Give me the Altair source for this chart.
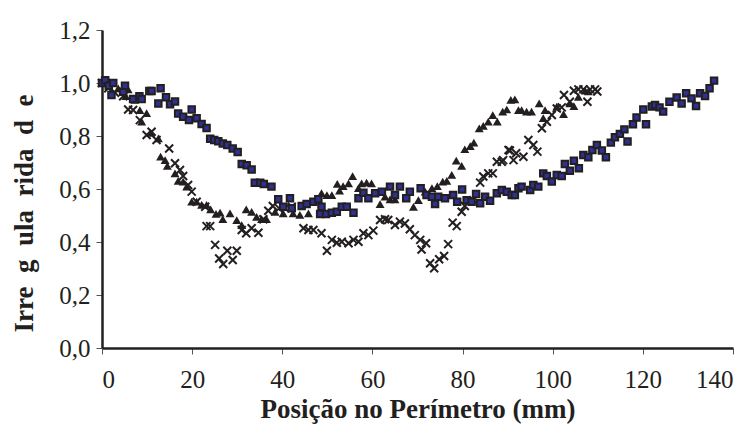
import altair as alt
import pandas as pd

# Series 1: squares
sq_x = [0, 0.7, 1.5, 2.1, 2.5, 4.7, 5.1, 6.9, 8.3, 8.8, 10.5, 11.0, 12.5, 13.0, 14.2, 15.1, 16.2, 16.9,
        18.0, 19.3, 19.9, 21.0, 22.1, 23.2, 24.0, 24.9, 25.8, 26.8, 27.8, 29.0, 30.1, 31.0, 32.1, 33.2,
        33.9, 35.1, 35.9, 37.6, 39.1, 40.2, 41.7, 42.1, 44.3, 45.4, 46.9, 48.0, 48.7, 48.4, 49.7, 51.0,
        52.1, 53.2, 54.3, 55.8, 56.9, 58.0, 59.1, 60.6, 62.1, 63.9, 65.0, 66.1, 67.5, 68.3, 70.7, 72.0,
        73.2, 73.9, 74.6, 76.1, 77.9, 78.8, 79.9, 80.9, 82.0, 83.0, 83.9, 85.0, 86.1, 87.6, 88.7, 89.8,
        90.9, 91.6, 92.4, 93.1, 95.0, 95.7, 96.8, 97.9, 98.7, 99.8, 100.9, 102.0, 102.7, 103.8, 104.7,
        105.8, 106.8, 107.9, 108.8, 109.8, 110.9, 111.8, 112.9, 113.8, 114.9, 115.9, 116.6, 117.8, 118.6,
        120.1, 120.7, 122.0, 122.7, 123.7, 124.5, 125.9, 127.5, 128.6, 129.6, 130.8, 131.8, 132.7, 133.8,
        134.8, 135.8]
sq_y = [1.00, 1.01, 0.99, 0.955, 1.00, 0.967, 0.99, 0.94, 0.95, 0.94, 0.97, 0.97, 0.923, 0.98, 0.946, 0.92,
        0.93, 0.885, 0.873, 0.86, 0.90, 0.867, 0.845, 0.83, 0.79, 0.785, 0.78, 0.772, 0.766, 0.753, 0.74,
        0.694, 0.69, 0.674, 0.624, 0.624, 0.619, 0.609, 0.561, 0.533, 0.565, 0.527, 0.536, 0.543, 0.552,
        0.561, 0.533, 0.506, 0.506, 0.51, 0.514, 0.533, 0.533, 0.51, 0.565, 0.586, 0.565, 0.584, 0.59,
        0.609, 0.577, 0.609, 0.565, 0.59, 0.603, 0.577, 0.571, 0.543, 0.571, 0.565, 0.577, 0.552, 0.598,
        0.558, 0.552, 0.581, 0.546, 0.571, 0.556, 0.584, 0.596, 0.59, 0.577, 0.577, 0.603, 0.609, 0.596,
        0.615, 0.609, 0.659, 0.649, 0.628, 0.653, 0.649, 0.694, 0.669, 0.707, 0.678, 0.728, 0.72, 0.747,
        0.766, 0.745, 0.72, 0.775, 0.795, 0.808, 0.825, 0.779, 0.844, 0.87, 0.90, 0.844, 0.911, 0.917,
        0.908, 0.892, 0.929, 0.945, 0.923, 0.961, 0.942, 0.913, 0.961, 0.951, 0.98, 1.009]

# Series 2: triangles
tri_x = [0, 1.4, 3.6, 4.7, 5.3, 5.8, 7.3, 8.4, 8.8, 9.9, 10.8, 12.5, 13.0, 14.0, 14.5, 16.2, 16.9, 18.0,
         18.8, 19.9, 21.0, 22.1, 23.2, 24.1, 25.3, 26.2, 26.8, 28.4, 29.9, 31.0, 32.0, 33.2, 34.3, 35.4,
         36.5, 38.4, 40.2, 42.4, 43.9, 45.8, 47.5, 48.7, 49.9, 51.0, 52.2, 52.7, 53.5, 54.7, 55.6, 56.9,
         57.6, 58.7, 59.8, 61.7, 62.8, 63.9, 65.0, 69.1, 70.2, 71.7, 73.2, 74.4, 75.6, 76.5, 77.6, 78.6,
         79.8, 80.5, 81.7, 82.5, 83.7, 84.6, 85.7, 86.7, 87.7, 88.9, 89.8, 90.7, 91.6, 92.4, 93.1, 94.2,
         95.3, 97.0, 97.9, 98.3, 100.9, 102.4, 103.8, 104.7, 105.7, 107.2, 107.9]
tri_y = [1.00, 1.01, 0.98, 0.98, 0.95, 0.976, 0.936, 0.898, 0.854, 0.886, 0.812, 0.791, 0.722, 0.709, 0.687,
         0.659, 0.631, 0.628, 0.609, 0.552, 0.552, 0.54, 0.54, 0.523, 0.506, 0.511, 0.486, 0.508, 0.483,
         0.464, 0.523, 0.514, 0.495, 0.486, 0.486, 0.514, 0.508, 0.508, 0.502, 0.508, 0.561, 0.584, 0.577,
         0.577, 0.619, 0.594, 0.611, 0.621, 0.649, 0.603, 0.621, 0.624, 0.621, 0.543, 0.571, 0.561, 0.561,
         0.533, 0.558, 0.59, 0.603, 0.611, 0.628, 0.631, 0.653, 0.707, 0.687, 0.75, 0.762, 0.775, 0.829,
         0.838, 0.854, 0.879, 0.854, 0.892, 0.90, 0.936, 0.938, 0.898, 0.898, 0.892, 0.892, 0.923, 0.867,
         0.898, 0.911, 0.883, 0.923, 0.913, 0.948, 0.971, 0.968]

# Series 3: crosses
cr_x = [0, 1.4, 2.9, 4.7, 5.8, 6.9, 8.4, 9.9, 11.0, 12.1, 14.9, 16.2, 17.3, 18.0, 19.1, 19.9, 21.0, 22.9,
        23.2, 24.0, 25.1, 26.0, 26.9, 27.8, 29.0, 29.9, 31.0, 32.0, 33.2, 34.7, 35.8, 36.9, 37.9, 39.3,
        40.6, 42.1, 44.7, 45.8, 46.9, 48.7, 49.9, 51.0, 52.1, 53.2, 54.7, 55.8, 56.9, 58.0, 59.1, 60.2,
        61.7, 62.8, 63.5, 65.0, 66.1, 67.2, 68.3, 69.4, 70.6, 70.9, 71.9, 72.8, 73.7, 74.8, 75.9, 76.8,
        77.8, 78.7, 79.8, 80.5, 82.4, 83.9, 84.6, 85.7, 86.7, 87.6, 88.7, 89.0, 90.2, 90.5, 91.3, 91.9,
        93.5, 94.6, 95.7, 96.6, 97.6, 98.7, 99.8, 100.9, 102.0, 102.5, 103.8, 104.7, 105.7, 106.8, 107.7,
        108.3, 109.4, 109.9]
cr_y = [1.00, 0.98, 0.963, 0.95, 0.90, 0.898, 0.86, 0.804, 0.816, 0.785, 0.753, 0.697, 0.672, 0.649, 0.615,
        0.59, 0.552, 0.533, 0.46, 0.46, 0.389, 0.338, 0.317, 0.367, 0.332, 0.367, 0.445, 0.433, 0.452,
        0.435, 0.486, 0.518, 0.536, 0.527, 0.527, 0.533, 0.452, 0.445, 0.445, 0.433, 0.367, 0.408, 0.397,
        0.401, 0.395, 0.408, 0.401, 0.433, 0.426, 0.443, 0.483, 0.486, 0.483, 0.464, 0.477, 0.47, 0.448,
        0.426, 0.408, 0.372, 0.395, 0.32, 0.301, 0.335, 0.347, 0.392, 0.473, 0.46, 0.514, 0.536, 0.558,
        0.624, 0.647, 0.659, 0.659, 0.703, 0.703, 0.709, 0.747, 0.745, 0.709, 0.735, 0.722, 0.785, 0.766,
        0.741, 0.829, 0.854, 0.879, 0.904, 0.908, 0.955, 0.929, 0.971, 0.976, 0.976, 0.929, 0.976, 0.976,
        0.968]

x_ticks = [0, 20, 40, 60, 80, 100, 120, 140]
y_ticks = [0.0, 0.2, 0.4, 0.6, 0.8, 1.0, 1.2]

x_title = "Posição no Perímetro (mm)"
y_title = "Irre\u2002g\u2002ula\u2002rida\u2002d\u2002e"

FONT = "Liberation Serif"
INK = "#231f20"

sq = pd.DataFrame({"x": sq_x, "y": sq_y})
tri = pd.DataFrame({"x": tri_x, "y": tri_y})
cr = pd.DataFrame({"x": cr_x, "y": cr_y})

xs = alt.Scale(domain=[0, 140], nice=False, zero=False)
ys = alt.Scale(domain=[0, 1.2], nice=False, zero=False)

x_enc = alt.X("x:Q", scale=xs, title=x_title,
              axis=alt.Axis(values=x_ticks, labelExpr="datum.value", labelPadding=13, titlePadding=4))
y_enc = alt.Y("y:Q", scale=ys, title=y_title,
              axis=alt.Axis(values=y_ticks,
                            labelExpr="replace(format(datum.value, '.1f'), '.', ',')",
                            titleX=-78, titleY=183, titleBaseline="middle", titleAngle=-90))

tri_layer = alt.Chart(tri).mark_point(
    shape="triangle-up", filled=True, size=80, color=INK, opacity=1
).encode(x=x_enc, y=y_enc)

cr_layer = alt.Chart(cr).mark_point(
    shape="M-1,-1L1,1M1,-1L-1,1", filled=False, size=64, color=INK, strokeWidth=2, opacity=1
).encode(x=x_enc, y=y_enc)

sq_layer = alt.Chart(sq).mark_point(
    shape="square", filled=True, size=42, fill="#2e3192", stroke=INK, strokeWidth=2, opacity=1
).encode(x=x_enc, y=y_enc)

chart = alt.layer(tri_layer, cr_layer, sq_layer).properties(
    width=631, height=318,
    autosize=alt.AutoSizeParams(type="none"),
    padding={"left": 94, "top": 22, "right": 14, "bottom": 79},
).configure_view(stroke=None).configure_axis(
    grid=False,
    domainColor=INK, domainWidth=2.5,
    tickColor="#555555", tickWidth=1, tickSize=6,
    labelFont=FONT, labelFontSize=25, labelColor=INK, labelPadding=4,
    titleFont=FONT, titleFontSize=27, titleFontWeight="bold", titleColor=INK,
).configure_axisY(labelPadding=6)

chart.save("out.html", embed_options={"renderer": "svg", "actions": False})
